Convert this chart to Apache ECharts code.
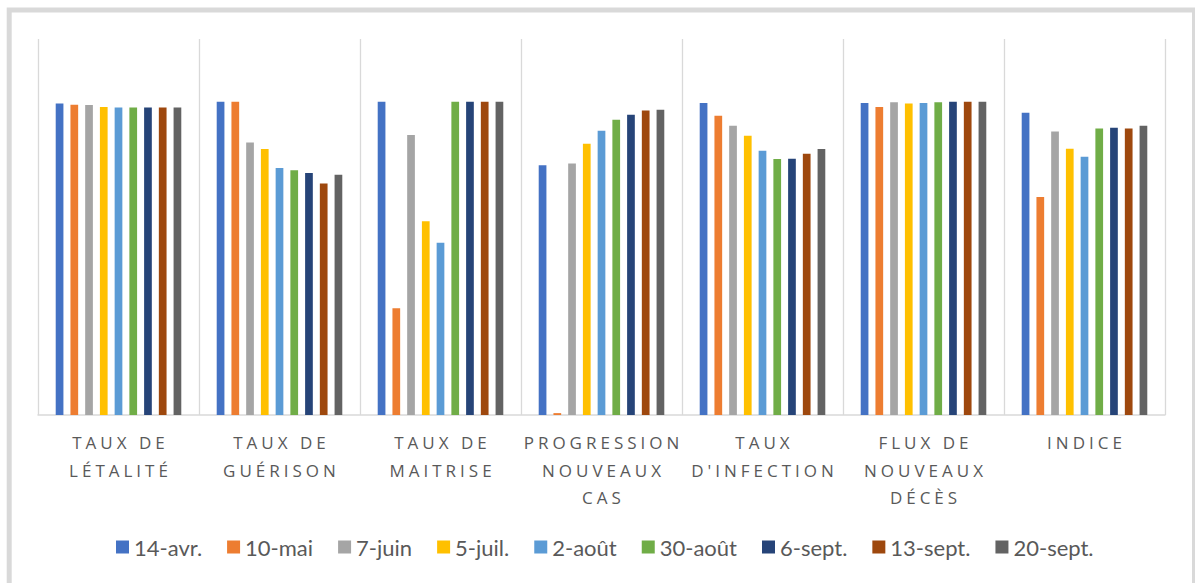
<!DOCTYPE html>
<html>
<head>
<meta charset="utf-8">
<script src="https://cdn.jsdelivr.net/npm/echarts@6/dist/echarts.min.js"></script>
<style>
  html, body { margin: 0; padding: 0; background: #ffffff; }
  #chart { width: 1195px; height: 583px; }
  #chart text[style*="Open Sans"] { letter-spacing: 4px; }
</style>
</head>
<body>
<div id="chart"></div>
<script>
const categories = [
  "TAUX DE\nLÉTALITÉ",
  "TAUX DE\nGUÉRISON",
  "TAUX DE\nMAITRISE",
  "PROGRESSION\nNOUVEAUX\nCAS",
  "TAUX\nD'INFECTION",
  "FLUX DE\nNOUVEAUX\nDÉCÈS",
  "INDICE"
];
const seriesNames = ["14-avr.", "10-mai", "7-juin", "5-juil.", "2-août", "30-août", "6-sept.", "13-sept.", "20-sept."];
const colors = ["#4472C4", "#ED7D31", "#A5A5A5", "#FFC000", "#5B9BD5", "#70AD47", "#264478", "#9E480E", "#636363"];

const v14avr   = [0.994, 1.000, 1.000, 0.797, 0.996, 0.996, 0.965];
const v10mai   = [0.990, 1.000, 0.341, 0.006, 0.955, 0.983, 0.696];
const v7juin   = [0.989, 0.870, 0.894, 0.803, 0.923, 0.998, 0.905];
const v5juil   = [0.983, 0.849, 0.618, 0.866, 0.891, 0.994, 0.850];
const v2aout   = [0.981, 0.788, 0.550, 0.907, 0.843, 0.996, 0.824];
const v30aout  = [0.981, 0.781, 1.000, 0.942, 0.817, 0.998, 0.914];
const v6sept   = [0.981, 0.772, 1.000, 0.958, 0.818, 1.000, 0.917];
const v13sept  = [0.981, 0.739, 1.000, 0.972, 0.834, 1.000, 0.914];
const v20sept  = [0.981, 0.767, 1.000, 0.974, 0.849, 1.000, 0.923];
const allValues = [v14avr, v10mai, v7juin, v5juil, v2aout, v30aout, v6sept, v13sept, v20sept];

const chart = echarts.init(document.getElementById('chart'), null, { renderer: 'svg' });

const series = seriesNames.map((name, i) => ({
  name: name,
  type: 'bar',
  data: allValues[i],
  itemStyle: { color: colors[i] },
  barGap: '91%',
  barCategoryGap: '22%',
  animation: false
}));

chart.setOption({
  backgroundColor: '#ffffff',
  animation: false,
  color: colors,
  graphic: [{
    type: 'rect',
    silent: true,
    z: -10,
    shape: { x: 9.2, y: 10, width: 1185.3, height: 1000 },
    style: { fill: 'none', stroke: '#d9d9d9', lineWidth: 5 }
  }],
  grid: { left: 38, right: 30, top: 39, bottom: 168, containLabel: false },
  legend: {
    data: seriesNames,
    left: 111,
    top: 531,
    itemWidth: 13,
    itemHeight: 13,
    itemGap: 25,
    icon: 'rect',
    textStyle: { fontFamily: 'Lato', fontSize: 22, color: '#595959' }
  },
  xAxis: {
    type: 'category',
    data: categories,
    axisLine: { show: true, lineStyle: { color: '#d9d9d9', width: 1.5 } },
    axisTick: { show: false },
    splitLine: { show: true, lineStyle: { color: '#d9d9d9', width: 1.3 } },
    axisLabel: {
      interval: 0,
      margin: 14,
      fontFamily: 'Open Sans',
      fontSize: 17,
      lineHeight: 27.4,
      color: '#595959',
      padding: [0, 0, 0, 4]
    }
  },
  yAxis: {
    type: 'value',
    min: 0,
    max: 1.2,
    show: false,
    splitLine: { show: false }
  },
  series: series
});
</script>
</body>
</html>
